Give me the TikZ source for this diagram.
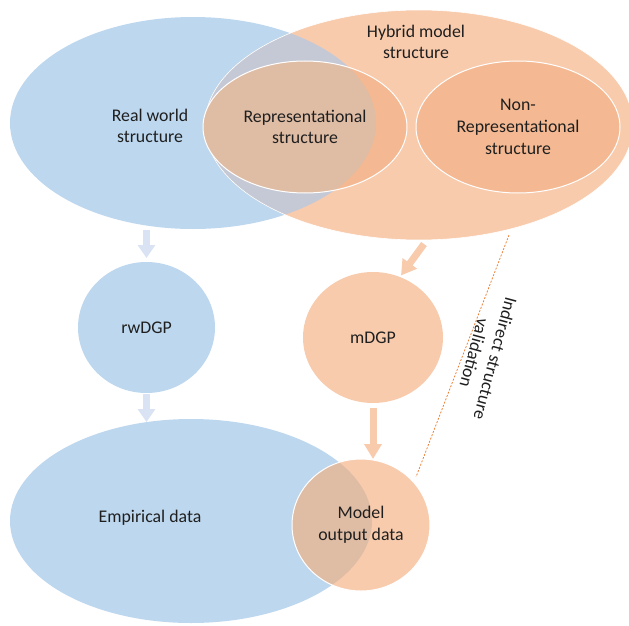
\documentclass[tikz,border=0pt]{standalone}
\usepackage{fontspec}
\setmainfont{Carlito}
\usetikzlibrary{shapes.geometric,arrows.meta,calc}
\definecolor{bluefill}{HTML}{BDD7EE}
\definecolor{orfill}{HTML}{F8CBAD}
\definecolor{ordark}{HTML}{F4B992}
\definecolor{ovlgrey}{HTML}{C5C9D5}
\definecolor{ovlbrown}{HTML}{DFBCA4}
\definecolor{arrblue}{HTML}{DAE3F3}
\definecolor{dashor}{HTML}{ED7D31}
\definecolor{txt}{HTML}{1F1F1F}
\begin{document}
\begin{tikzpicture}[x=1pt,y=-1pt,
  blob/.style={ellipse, inner sep=0pt, outer sep=0pt},
  lbl/.style={font=\fontsize{17.8}{21.7}\selectfont, text=txt, align=center},
  rim/.style={draw=white, line width=1pt},
  bluearrow/.style={draw=arrblue, line width=7pt, -{Triangle[width=17pt,length=13pt]}},
  orarrow/.style={draw=orfill, line width=7pt, -{Triangle[width=17pt,length=15pt]}},
  dashline/.style={draw=dashor, line width=0.75pt, dash pattern=on 2pt off 1.5pt}
]
\useasboundingbox (0,0) rectangle (629,626);

% --- top: real world and hybrid model structure
\node[blob, fill=bluefill, minimum width=366pt, minimum height=212pt] (rw) at (193,123) {};
\node[blob, fill=orfill, minimum width=428pt, minimum height=230pt] (hyb) at (419,125) {};
\begin{scope}
  \clip (193,123) ellipse [x radius=183, y radius=106];
  \fill[ovlgrey] (419,125) ellipse [x radius=214, y radius=115];
\end{scope}
\draw[rim, line width=0.6pt] (419,125) ellipse [x radius=214, y radius=115];

\fill[ordark] (305,127) ellipse [x radius=102, y radius=66];
\begin{scope}
  \clip (193,123) ellipse [x radius=183, y radius=106];
  \fill[ovlbrown] (305,127) ellipse [x radius=102, y radius=66];
\end{scope}
\node[blob, rim, lbl, minimum width=204pt, minimum height=132pt] (rep) at (305,127) {Representational\\structure};
\node[blob, rim, fill=ordark, lbl, minimum width=204pt, minimum height=132pt] (nonrep) at (518,127) {Non-\\Representational\\structure};

\node[lbl] (rwtext) at (150,126) {Real world\\structure};
\node[lbl] (hybtext) at (416,42) {Hybrid model\\structure};

% --- middle: data generating processes
\node[blob, fill=bluefill, lbl, minimum width=137pt, minimum height=131pt] (rwdgp) at (146.5,327.5) {rwDGP};
\node[blob, fill=orfill, lbl, minimum width=140pt, minimum height=131pt] (mdgp) at (373,337.5) {mDGP};

% --- bottom: data
\node[blob, fill=bluefill, minimum width=362pt, minimum height=204pt] (emp) at (191,521) {};
\fill[orfill] (361,525) ellipse [x radius=69, y radius=66];
\begin{scope}
  \clip (191,521) ellipse [x radius=181, y radius=102];
  \fill[ovlbrown] (361,525) ellipse [x radius=69, y radius=66];
\end{scope}
\node[blob, rim, lbl, minimum width=138pt, minimum height=132pt] (model) at (361,525) {Model\\output data};
\node[lbl] (emptext) at (150,518) {Empirical data};

% --- arrows
\draw[bluearrow] ([yshift=-1pt]rwdgp.north |- rw.south) -- ([yshift=4pt]rwdgp.north);
\draw[bluearrow] ([yshift=-1pt]rwdgp.south) -- ([yshift=-3pt]rwdgp.south |- emp.north);
\draw[orarrow] ([xshift=5pt,yshift=-4pt]hyb.south) -- ([yshift=2pt]mdgp.65);
\draw[orarrow] ([yshift=-5pt]mdgp.south) -- (mdgp.south |- model.north);

% --- indirect validation
\coordinate (dl1) at (509,235);
\coordinate (dl2) at (416,477);
\draw[dashline] (dl1) -- (dl2);
\node[lbl, rotate=-105] (ind) at (485,356) {Indirect structure\\validation};
\end{tikzpicture}
\end{document}
